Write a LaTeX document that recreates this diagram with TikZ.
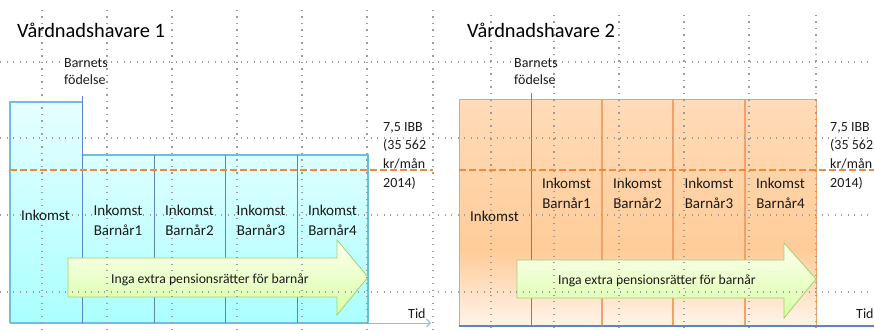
\documentclass[tikz,border=0pt]{standalone}
\usepackage{fontspec}
\setmainfont{Carlito}
\usetikzlibrary{arrows.meta}
\definecolor{gridc}{HTML}{9C9C9C}
\definecolor{dashor}{HTML}{EE8A3C}
\definecolor{bluebox}{HTML}{6CBFDD}
\definecolor{bluediv}{HTML}{5F86AE}
\definecolor{birth}{HTML}{5A86C6}
\definecolor{orline}{HTML}{EFA36A}
\definecolor{greenedge}{HTML}{A7CF6E}
\definecolor{txt}{HTML}{1A1A1A}
\tikzset{
  gridline/.style={gridc, line width=1.2pt, dash pattern=on 1.2pt off 5.3pt},
  limit/.style={dashor, line width=2.2pt, dash pattern=on 6.5pt off 3.5pt},
  bluefill/.style={top color=blue!0!white!85!cyan!15, bottom color=cyan!35!white, draw=bluebox, line width=1pt},
  lbl/.style={inner sep=0pt, text=txt, font=\fontsize{15}{20}\selectfont},
  small/.style={inner sep=0pt, text=txt, font=\fontsize{14}{17}\selectfont, align=left},
  ttl/.style={inner sep=0pt, text=black, font=\fontsize{20.4}{24}\selectfont},
  arrtxt/.style={inner sep=0pt, text=txt, font=\fontsize{13.7}{16}\selectfont},
  greenarrow/.style={draw=greenedge, line width=0.8pt, top color=green!8!yellow!6!white, bottom color=green!45!yellow!35!white}
}
\begin{document}
\begin{tikzpicture}[x=1pt,y=-1pt]
\useasboundingbox (0,0) rectangle (874,331);

% ================= LEFT PANEL =================
% boxes
\shade[top color=cyan!10!white, bottom color=cyan!33!white] (10,102) rectangle (82,323);
\shade[top color=cyan!13!white, bottom color=cyan!33!white] (82,155) rectangle (368,323);
\draw[bluebox, line width=1.2pt] (10,323) -- (10,102) -- (82,102);
\draw[bluebox, line width=1.2pt] (82,155) -- (368,155) -- (368,323) -- (10,323);
\foreach \x in {154,225,297} \draw[bluediv, line width=0.9pt] (\x,155) -- (\x,323);
\draw[birth, line width=1pt] (82,96) -- (82,323);
% axis
\draw[{Straight Barb[length=4pt,width=8pt]}-, draw=birth!60!white, line width=1pt] (431,323) -- (368,323);

% green arrow
\path[greenarrow] (68,258) -- (337,258) -- (337,240) -- (368,277) -- (337,315) -- (337,297) -- (68,297) -- cycle;

% grid
\foreach \x in {42,107,172,237,302,367,433} \draw[gridline] (\x,10) -- (\x,331);
\foreach \y in {62,138,215,292} \draw[gridline] (0,\y) -- (433,\y);
% limit line
\draw[limit] (10,170) -- (433,170);

% texts
\node[ttl, anchor=base west] (t1) at (17,38) {Vårdnadshavare 1};
\node[small, anchor=north west] (b1) at (64,58) {Barnets\\födelse};
\node[small, anchor=north west] (ibb1) at (383,122) {7,5 IBB\\[1.7pt](35 562\\[1.7pt]kr/mån\\[1.7pt]2014)};
\node[lbl, anchor=base] (i0) at (45.5,220) {Inkomst};
\node[lbl, anchor=base, align=center] (i1) at (118,235) {Inkomst\\Barnår1};
\node[lbl, anchor=base, align=center] (i2) at (189.5,235) {Inkomst\\Barnår2};
\node[lbl, anchor=base, align=center] (i3) at (261,235) {Inkomst\\Barnår3};
\node[lbl, anchor=base, align=center] (i4) at (332.5,235) {Inkomst\\Barnår4};
\node[arrtxt, anchor=base] (a1) at (210,283) {Inga extra pensionsrätter för barnår};
\node[small, anchor=base west] (tid1) at (408,318) {Tid};

% ================= RIGHT PANEL =================
\shade[top color=orange!28!white, bottom color=orange!40!white] (459,100) rectangle (816,250);
\shade[top color=orange!40!white, bottom color=red!8!orange!8!white] (459,250) rectangle (816,326);
\draw[orline, line width=1pt] (459,326) -- (459,100) -- (816,100) -- (816,326);
\foreach \x in {602,673,745} \draw[orline, line width=1.2pt] (\x,100) -- (\x,326);
\draw[birth, line width=1pt] (531,93) -- (531,326);
\draw[birth, line width=1.3pt] (459,326) -- (874,326);

% green arrow
\path[greenarrow] (517,260) -- (784,260) -- (784,243) -- (816,279) -- (784,318) -- (784,298) -- (517,298) -- cycle;

% grid
\foreach \x in {491,554,619,684,749,816} \draw[gridline] (\x,15) -- (\x,331);
\foreach \y in {62,138,215,292} \draw[gridline] (438,\y) -- (874,\y);
\draw[limit] (459,170) -- (874,170);

% texts
\node[ttl, anchor=base west] (t2) at (467,38) {Vårdnadshavare 2};
\node[small, anchor=north west] (b2) at (514,58) {Barnets\\födelse};
\node[small, anchor=north west] (ibb2) at (830,122) {7,5 IBB\\[1.7pt](35 562\\[1.7pt]kr/mån\\[1.7pt]2014)};
\node[lbl, anchor=base] (j0) at (494.5,221) {Inkomst};
\node[lbl, anchor=base, align=center] (j1) at (566.5,208) {Inkomst\\Barnår1};
\node[lbl, anchor=base, align=center] (j2) at (637.5,208) {Inkomst\\Barnår2};
\node[lbl, anchor=base, align=center] (j3) at (709,208) {Inkomst\\Barnår3};
\node[lbl, anchor=base, align=center] (j4) at (780.5,208) {Inkomst\\Barnår4};
\node[arrtxt, anchor=base] (a2) at (657,284) {Inga extra pensionsrätter för barnår};
\node[small, anchor=base west] (tid2) at (856,318) {Tid};
\end{tikzpicture}
\end{document}
